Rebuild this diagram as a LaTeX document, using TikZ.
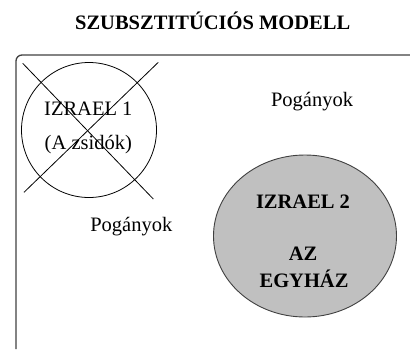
\documentclass[tikz,border=0pt]{standalone}
\usepackage{fontspec}
\setmainfont{Liberation Serif}
\usetikzlibrary{shapes.geometric}
\definecolor{fillgray}{HTML}{C0C0C0}
\definecolor{framegray}{HTML}{404040}
\begin{document}
\begin{tikzpicture}[x=1pt,y=-1pt,
  lbl/.style={anchor=base,inner sep=0pt,font=\fontsize{20.5}{24}\selectfont},
  blbl/.style={lbl,font=\fontsize{20.5}{24}\selectfont\bfseries},
  thin line/.style={draw=black,line width=0.8pt}]
\useasboundingbox (0,0) rectangle (410,349);
% title
\node[blbl] (title) at (212.7,29.3) {SZUBSZTITÚCIÓS MODELL};
% frame
\coordinate (fbl) at (16,349);
\coordinate (ftl) at (16,55);
\coordinate (ftr) at (410,55);
\draw[framegray,line width=1.3pt,rounded corners=6pt] (fbl) -- (ftl) -- (ftr);
% Israel 1
\node[circle,thin line,minimum size=135pt,inner sep=0pt] (izr1) at (89,130) {};
\node[lbl] (i1a) at (88.3,115) {IZRAEL 1};
\node[lbl] (i1b) at (88.3,149) {(A zsidók)};
\coordinate (c1s) at (22.7,63.3);
\coordinate (c1e) at (153.3,199);
\coordinate (c2s) at (158.3,62.3);
\coordinate (c2e) at (24,192.3);
\draw[thin line] (c1s) -- (c1e);
\draw[thin line] (c2s) -- (c2e);
% Pogányok labels
\node[lbl] (pog1) at (312,106.7) {Pogányok};
\node[lbl] (pog2) at (131.3,231) {Pogányok};
% Israel 2
\node[ellipse,draw=framegray,line width=0.9pt,fill=fillgray,minimum width=183pt,minimum height=162pt,inner sep=0pt] (izr2) at (305,236) {};
\node[blbl] (i2a) at (303,208) {IZRAEL 2};
\node[blbl] (i2b) at (303,260) {AZ};
\node[blbl] (i2c) at (304,287) {EGYHÁZ};
\end{tikzpicture}
\end{document}
